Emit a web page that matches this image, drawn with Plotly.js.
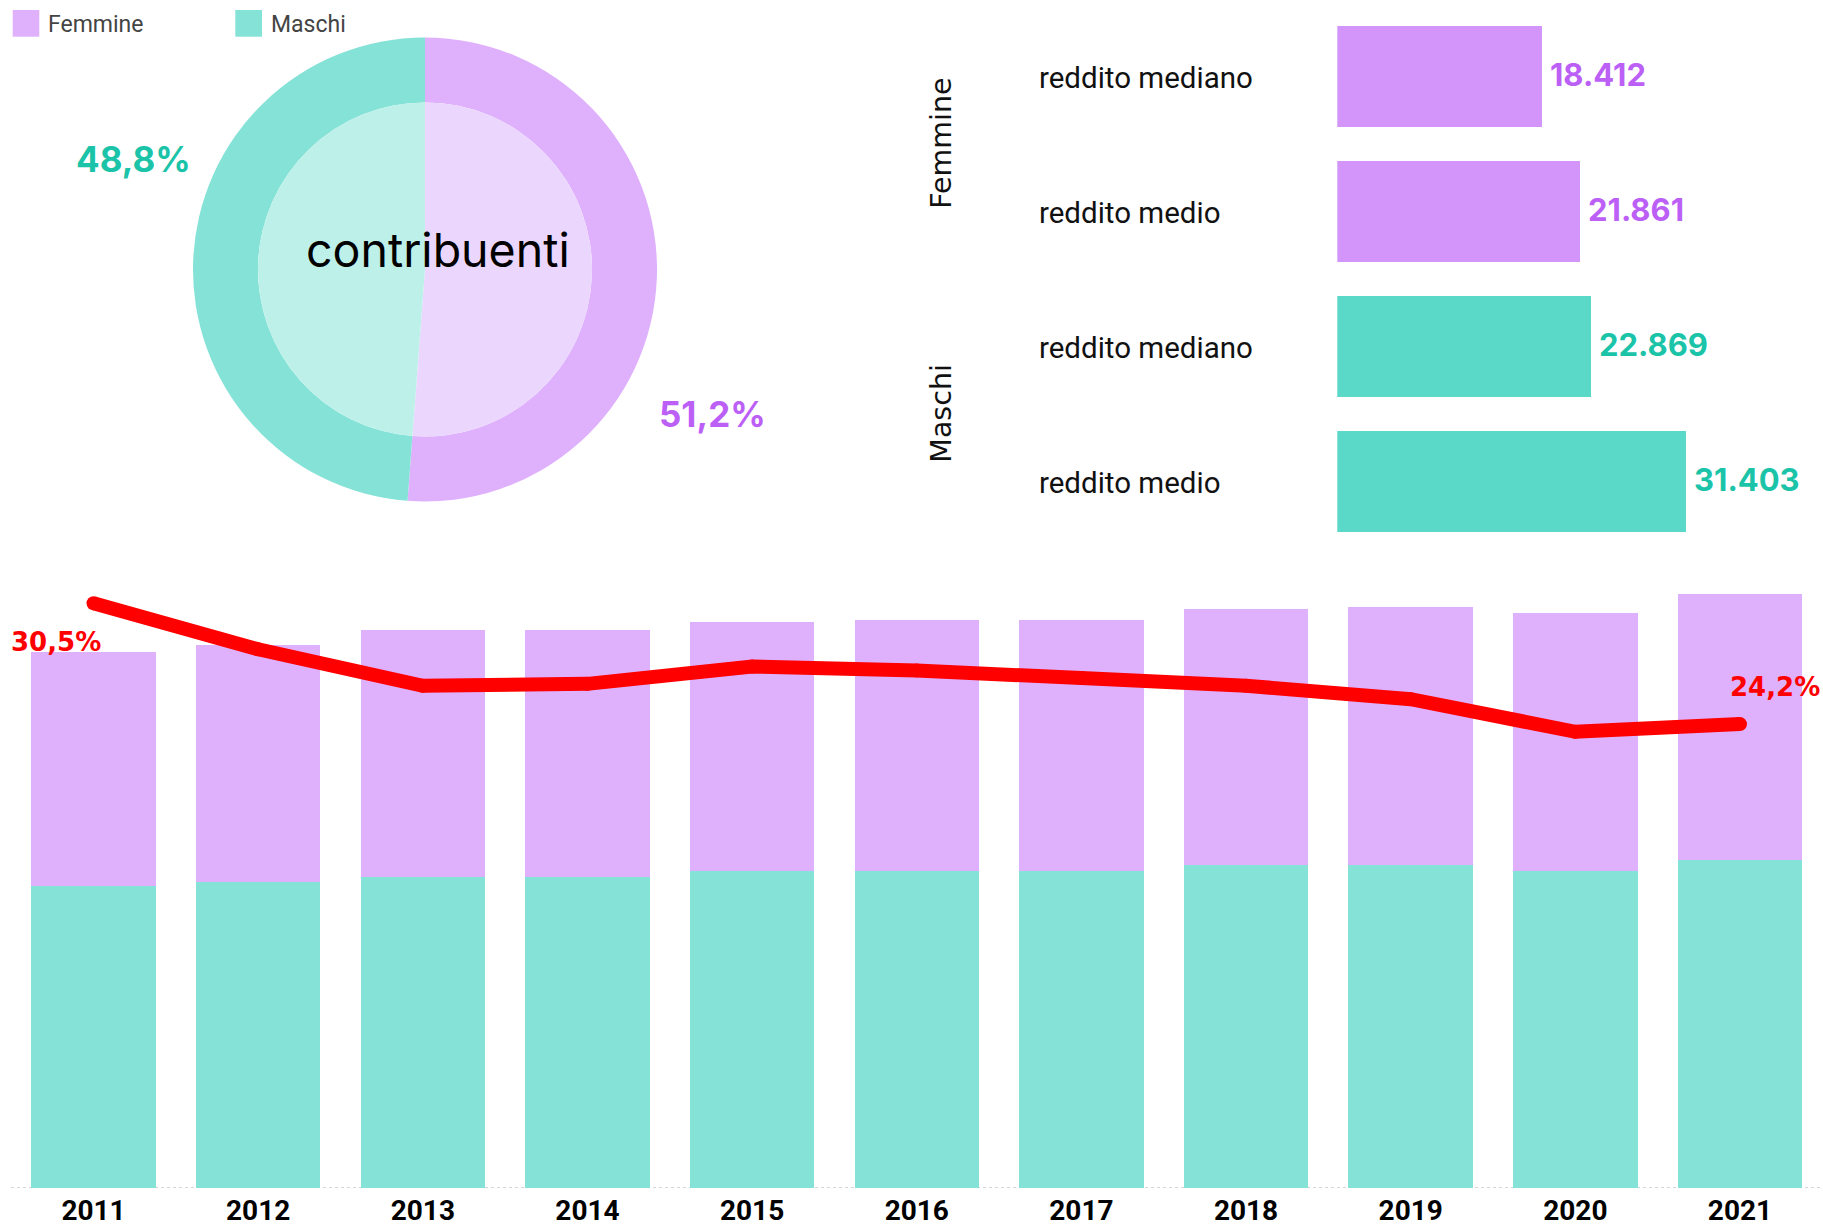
<!DOCTYPE html>
<html>
<head>
<meta charset="utf-8">
<script src="https://cdn.plot.ly/plotly-3.0.1.min.js"></script>
<style>html,body{margin:0;padding:0;background:#fff}#chart{width:1823px;height:1227px}</style>
</head>
<body>
<div id="chart"></div>
<script>
// ---- Data ----
const genders = ["Femmine", "Maschi"];
const contribShare = [51.2, 48.8];

const incomeGroups = ["Femmine", "Femmine", "Maschi", "Maschi"];
const incomeLabels = ["reddito mediano", "reddito medio", "reddito mediano", "reddito medio"];
const incomeValues = [18412, 21861, 22869, 31403];

const years = ["2011","2012","2013","2014","2015","2016","2017","2018","2019","2020","2021"];
const maschiSeries = [53.3, 53.9, 54.9, 54.9, 55.9, 55.9, 55.9, 56.9, 56.9, 55.9, 57.9];
const femmineSeries = [41.3, 41.9, 43.6, 43.6, 43.9, 44.3, 44.3, 45.2, 45.6, 45.6, 46.9];
const gapSeries = [30.5, 28.1, 26.2, 26.3, 27.2, 27.0, 26.6, 26.2, 25.5, 23.8, 24.2];

// ---- Styles ----
const C = {
  fOuter: "#dfb1fd", mOuter: "#84e2d7",
  fInner: "#ebd7fd", mInner: "#bef0ea",
  fBar: "#d495fb", mBar: "#5ad8c8",
  fText: "#bb5ff6", mText: "#1bc4a8",
  red: "#ff0000"
};
const W = 1823, H = 1227;
const px = x => x / W;
const py = y => 1 - y / H;

const itFmt = (v, d) => v.toLocaleString("it-IT", {minimumFractionDigits: d, maximumFractionDigits: d});

const traces = [];

// Donut (outer) + inner pie
traces.push({
  type: "pie", labels: genders, values: contribShare, sort: false, direction: "clockwise", rotation: 0,
  hole: 0.72, textinfo: "none", showlegend: false,
  marker: {colors: [C.fOuter, C.mOuter], line: {width: 0}},
  domain: {x: [px(193), px(657)], y: [py(501.7), py(37.3)]}
});
traces.push({
  type: "pie", labels: genders, values: contribShare, sort: false, direction: "clockwise", rotation: 0,
  textinfo: "none", showlegend: false,
  marker: {colors: [C.fInner, C.mInner], line: {width: 0}},
  domain: {x: [px(258), px(592)], y: [py(436.5), py(102.5)]}
});

// Income horizontal bars
const idx = incomeValues.map((_, i) => i);
genders.forEach((g, gi) => {
  const sel = idx.filter(i => incomeGroups[i] === g);
  traces.push({
    type: "bar", orientation: "h", xaxis: "x3", yaxis: "y3",
    x: sel.map(i => incomeValues[i]), y: sel, width: 0.75,
    marker: {color: gi === 0 ? C.fBar : C.mBar}, showlegend: false, hoverinfo: "x"
  });
});

// Yearly stacked bars
traces.push({type: "bar", x: years, y: maschiSeries, name: "Maschi", width: 0.756,
  marker: {color: C.mOuter}, showlegend: false});
traces.push({type: "bar", x: years, y: femmineSeries, name: "Femmine", width: 0.756,
  marker: {color: C.fOuter}, showlegend: false});
// Gap line
traces.push({type: "scatter", mode: "lines+markers", x: years, y: gapSeries, yaxis: "y2",
  line: {color: C.red, width: 14}, marker: {color: C.red, size: 14}, showlegend: false, cliponaxis: false});

const annotations = [];
// Legend texts
annotations.push({xref: "paper", yref: "paper", x: px(46), y: py(24.3), xanchor: "left", yanchor: "middle",
  text: genders[0], showarrow: false, font: {family: "Roboto", size: 23, color: "#444"}});
annotations.push({xref: "paper", yref: "paper", x: px(268.5), y: py(24.3), xanchor: "left", yanchor: "middle",
  text: genders[1], showarrow: false, font: {family: "Roboto", size: 23, color: "#444"}});
// Pie labels
annotations.push({xref: "paper", yref: "paper", x: px(133), y: py(159), xanchor: "center", yanchor: "middle",
  text: itFmt(contribShare[1], 1) + "%",
  showarrow: false, font: {family: "Inter", size: 35, weight: "bold", color: C.mText}});
annotations.push({xref: "paper", yref: "paper", x: px(712), y: py(414), xanchor: "center", yanchor: "middle",
  text: itFmt(contribShare[0], 1) + "%",
  showarrow: false, font: {family: "Inter", size: 35, weight: "bold", color: C.fText}});
annotations.push({xref: "paper", yref: "paper", x: px(438.4), y: py(250), xanchor: "center", yanchor: "middle",
  text: "contribuenti",
  showarrow: false, font: {family: "Inter", size: 46.5, color: "#000"}});
// Income row labels + values
incomeValues.forEach((v, i) => {
  annotations.push({xref: "paper", yref: "y3", x: px(1037), y: i, xanchor: "left", yanchor: "middle", yshift: -2,
    text: incomeLabels[i],
    showarrow: false, font: {family: "Roboto", size: 29.5, color: "#111"}});
  annotations.push({xref: "x3", yref: "y3", x: v, y: i, xanchor: "left", yanchor: "middle", xshift: 6, yshift: 2,
    text: itFmt(v, 0),
    showarrow: false, font: {family: "Inter", size: 31, weight: "bold", color: incomeGroups[i] === genders[0] ? C.fText : C.mText}});
});
genders.forEach(g => {
  const sel = idx.filter(i => incomeGroups[i] === g);
  const mid = sel.reduce((a, b) => a + b, 0) / sel.length;
  annotations.push({xref: "paper", yref: "y3", x: px(942), y: mid, xanchor: "center", yanchor: "middle",
    textangle: -90, text: g,
    showarrow: false, font: {family: "DejaVu Sans", size: 28.5, color: "#111"}});
});
// Gap end labels (category axis: position by index)
const last = gapSeries.length - 1;
annotations.push({xref: "x", yref: "y2", x: 0, y: gapSeries[0], xanchor: "center", yanchor: "middle",
  xshift: -38, yshift: -38.6,
  text: itFmt(gapSeries[0], 1) + "%", showarrow: false, font: {family: "DejaVu Sans", size: 26, weight: "bold", color: C.red}});
annotations.push({xref: "x", yref: "y2", x: last, y: gapSeries[last], xanchor: "center", yanchor: "middle",
  xshift: 35.5, yshift: 37,
  text: itFmt(gapSeries[last], 1) + "%", showarrow: false, font: {family: "DejaVu Sans", size: 26, weight: "bold", color: C.red}});

const shapes = [
  {type: "rect", xref: "paper", yref: "paper", x0: px(12.7), x1: px(39.3), y0: py(36.7), y1: py(10),
   fillcolor: C.fOuter, line: {width: 0}},
  {type: "rect", xref: "paper", yref: "paper", x0: px(235.3), x1: px(262), y0: py(36.7), y1: py(10),
   fillcolor: C.mOuter, line: {width: 0}},
  {type: "line", xref: "paper", yref: "y", x0: px(11), x1: 1, y0: 0, y1: 0,
   line: {color: "#c8c8c8", width: 1.5, dash: "dot"}, layer: "below"}
];

const layout = {
  width: W, height: H, margin: {l: 0, r: 0, t: 0, b: 0},
  paper_bgcolor: "#fff", plot_bgcolor: "rgba(0,0,0,0)",
  barmode: "stack", showlegend: false,
  font: {family: "Roboto", color: "#000"},
  xaxis: {domain: [px(11.2), px(1822.3)], type: "category", showgrid: false, zeroline: false, showline: false,
    ticks: "", ticklabelstandoff: 3,
    tickfont: {family: "Roboto", size: 28, weight: "bold", color: "#000"}, range: [-0.5, 10.5]},
  yaxis: {domain: [py(1188), py(560)], range: [0, 110.76], visible: false, showgrid: false, zeroline: false},
  yaxis2: {overlaying: "y", range: [0, 32.76], visible: false, showgrid: false, zeroline: false},
  xaxis3: {domain: [px(1337.3), px(1790)], range: [0, 40791], visible: false, showgrid: false, zeroline: false, anchor: "y3"},
  yaxis3: {domain: [py(548.6), py(8.95)], range: [3.5, -0.5], visible: false, showgrid: false, zeroline: false, anchor: "x3"},
  annotations: annotations, shapes: shapes
};

Plotly.newPlot("chart", traces, layout, {staticPlot: true, displayModeBar: false});
</script>
</body>
</html>
